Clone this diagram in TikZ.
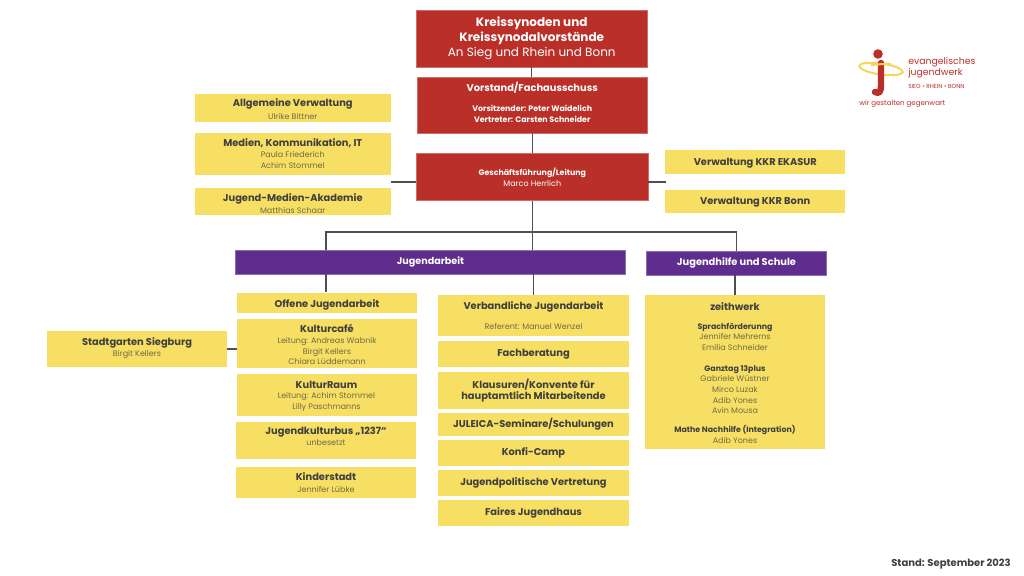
\documentclass[tikz,border=0pt]{standalone}
\usepackage{fontspec}
\setmainfont{Poppins}
\usetikzlibrary{positioning}
\definecolor{synred}{HTML}{BA3029}
\definecolor{jugyellow}{HTML}{F7DF63}
\definecolor{jugpurple}{HTML}{5E2D8E}
\definecolor{headgray}{HTML}{3F3F3F}
\definecolor{subgray}{HTML}{6E6A48}
\definecolor{linegray}{HTML}{4F4F4F}
\newcommand{\headtext}[1]{{\fontsize{7.4}{10}\selectfont\bfseries #1}}
\newcommand{\subtext}[1]{{\fontsize{6}{8}\selectfont\color{subgray} #1}}
\newcommand{\smallhead}[1]{{\fontsize{5.9}{8}\selectfont\bfseries #1}}
\newcommand{\bighead}[1]{{\fontsize{9}{11}\selectfont\bfseries #1}}
\newcommand{\padtop}[1]{\rule{0pt}{\dimexpr5.6pt+#1\relax}}
\newcommand{\padbot}[1]{\rule[-\dimexpr1.5pt+#1\relax]{0pt}{\dimexpr1.5pt+#1\relax}}
\tikzset{
  boxw/.style={minimum width=#1*0.75pt},
  boxh/.style={minimum height=#1*0.75pt},
  redbox/.style={fill=synred, draw=synred!70!white, line width=0.3pt, text=white, align=center, inner sep=0pt, font=\fontsize{6}{8}\selectfont},
  yellowbox/.style={fill=jugyellow, text=headgray, align=center, inner sep=0pt, font=\fontsize{6}{8}\selectfont},
  purplebox/.style={fill=jugpurple, draw=jugpurple!70!white, line width=0.3pt, text=white, align=center, inner sep=0pt},
  orgline/.style={draw=linegray, line width=0.8pt}
}
\begin{document}
\begin{tikzpicture}[x=0.75pt, y=-0.75pt]
\useasboundingbox (0,0) rectangle (1024,575);

% leitung
\node (synode) [redbox, boxw=230.5, boxh=57, font=\fontsize{9}{11.4}\selectfont] at (531.75,38.5) {\bighead{Kreissynoden und}\\\bighead{Kreissynodalvorstände}\\An Sieg und Rhein und Bonn};
\node (vorstand) [redbox, boxw=229.5, boxh=55.5] at (532.25,105.25) {\headtext{Vorstand/Fachausschuss}\\[7pt]\smallhead{Vorsitzender: Peter Waidelich}\\\smallhead{Vertreter: Carsten Schneider}\padbot{3pt}};
\node (leitung) [redbox, boxw=231.5, boxh=47] at (532.25,177) {\smallhead{Geschäftsführung/Leitung}\\Marco Herrlich};

% links oben
\node (verwaltung) [yellowbox, boxw=196.5, boxh=28] at (292.75,108) {\padtop{2.2pt}\headtext{Allgemeine Verwaltung}\\[1.5pt]\subtext{Ulrike Bittner}};
\node (medien) [yellowbox, boxw=196.5, boxh=42] at (292.75,153.5) {\headtext{Medien, Kommunikation, IT}\\\subtext{Paula Friederich}\\\subtext{Achim Stommel}};
\node (akademie) [yellowbox, boxw=196.5, boxh=27.5] at (292.75,201.25) {\padtop{3.7pt}\headtext{Jugend-Medien-Akademie}\\[0.8pt]\subtext{Matthias Schaar}};

% rechts oben
\node (ekasur) [yellowbox, boxw=180, boxh=24] at (755.25,162) {\padtop{1.5pt}\headtext{Verwaltung KKR EKASUR}};
\node (bonn) [yellowbox, boxw=180, boxh=23] at (755.25,201.5) {\padtop{1.5pt}\headtext{Verwaltung KKR Bonn}};

% bereiche
\node (jugendarbeit) [purplebox, boxw=390, boxh=24] at (430.5,262) {\fontsize{7.2}{8}\selectfont\bfseries Jugendarbeit};
\node (schule) [purplebox, boxw=180, boxh=24] at (736.5,263) {\fontsize{7.4}{8}\selectfont\bfseries Jugendhilfe und Schule};

% spalte 1
\node (offene) [yellowbox, boxw=180, boxh=20.5] at (327,302.75) {\padtop{3pt}\headtext{Offene Jugendarbeit}};
\node (kulturcafe) [yellowbox, boxw=180, boxh=49] at (327,343.5) {\padtop{2.2pt}\headtext{Kulturcafé}\\\subtext{Leitung: Andreas Wabnik}\\\subtext{Birgit Kellers}\\\subtext{Chiara Lüddemann}};
\node (kulturraum) [yellowbox, boxw=180, boxh=42.5] at (326.5,394.75) {\padtop{2.2pt}\headtext{KulturRaum}\\\subtext{Leitung: Achim Stommel}\\\subtext{Lilly Paschmanns}};
\node (bus) [yellowbox, boxw=180, boxh=37] at (326,440.5) {\headtext{Jugendkulturbus „1237“}\\\subtext{unbesetzt}\padbot{4.5pt}};
\node (kinderstadt) [yellowbox, boxw=180, boxh=31] at (326,482.5) {\headtext{Kinderstadt}\\[0.8pt]\subtext{Jennifer Lübke}};
\node (stadtgarten) [yellowbox, boxw=180, boxh=36] at (137,349) {\headtext{Stadtgarten Siegburg}\\\subtext{Birgit Kellers}\padbot{1.5pt}};

% spalte 2
\node (verband) [yellowbox, boxw=191, boxh=41] at (533.5,315.5) {\headtext{Verbandliche Jugendarbeit}\\[6.7pt]\subtext{Referent: Manuel Wenzel}};
\node (beratung) [yellowbox, boxw=191, boxh=26] at (533.5,354) {\headtext{Fachberatung}};
\node (klausuren) [yellowbox, boxw=191, boxh=37] at (533.5,390.5) {\headtext{Klausuren/Konvente für}\\\headtext{hauptamtlich Mitarbeitende}};
\node (juleica) [yellowbox, boxw=191, boxh=23] at (533.5,424.5) {\padtop{1.5pt}\headtext{JULEICA-Seminare/Schulungen}};
\node (konfi) [yellowbox, boxw=191, boxh=26] at (533.5,453) {\headtext{Konfi-Camp}};
\node (politik) [yellowbox, boxw=191, boxh=26] at (533.5,483) {\headtext{Jugendpolitische Vertretung}};
\node (faires) [yellowbox, boxw=191, boxh=26] at (533.5,513) {\headtext{Faires Jugendhaus}};

% spalte 3
\node (zeithwerk) [yellowbox, boxw=180, boxh=154] at (735,372) {\padtop{1.5pt}\headtext{zeithwerk}\\[6pt]\smallhead{Sprachförderunng}\\\subtext{Jennifer Mehrerns}\\\subtext{Emilia Schneider}\\[7.5pt]\smallhead{Ganztag 13plus}\\\subtext{Gabriele Wüstner}\\\subtext{Mirco Luzak}\\\subtext{Adib Yones}\\\subtext{Avin Mousa}\\[6pt]\smallhead{Mathe Nachhilfe (Integration)}\\\subtext{Adib Yones}};

% linien
\coordinate (linksfrei) at (391,182);
\coordinate (rechtsfrei) at (665.5,182);
\coordinate (verteiler) at (326,232);
\draw[orgline] (synode.south) -- (synode.south |- vorstand.north);
\draw[orgline] (vorstand.south) -- (leitung.north);
\draw[orgline] (leitung.south) -- (leitung.south |- jugendarbeit.north);
\draw[orgline] (linksfrei) -- (linksfrei -| leitung.west);
\draw[orgline] (rechtsfrei) -- (rechtsfrei -| leitung.east);
\draw[orgline] (verteiler |- jugendarbeit.north) -- (verteiler) -- (schule.north |- verteiler) -- (schule.north);
\draw[orgline] (verteiler |- jugendarbeit.south) -- (verteiler |- offene.north);
\draw[orgline] (verband.north |- jugendarbeit.south) -- (verband.north);
\draw[orgline] (zeithwerk.north |- schule.south) -- (zeithwerk.north);
\draw[orgline] (stadtgarten.east) -- (stadtgarten.east -| kulturcafe.west);

% logo
\draw[jugyellow!90!orange, line width=1.5pt, rotate around={-8:(881,69)}] (881,69) ellipse (22 and 5.5);
\fill[synred] (878,54) circle (4.8);
\draw[synred, line width=4.8pt, line cap=round] (881,63) -- (881,85) .. controls (881,92) and (879,94) .. (875,92);
\draw[jugyellow!90!orange, line width=1.5pt] (871,65.2) .. controls (876,64.4) and (884,63.8) .. (891,64);

\node (logotext) [text=synred, align=left, anchor=north west, inner sep=0pt, font=\fontsize{7}{8.4}\selectfont] at (908,57) {evangelisches\\jugendwerk};
\node (logosub) [text=synred, anchor=west, inner sep=0pt, font=\fontsize{4.4}{5}\selectfont] at (908,86) {SIEG • RHEIN • BONN};
\node (logoclaim) [text=synred, anchor=west, inner sep=0pt, font=\fontsize{5.3}{7}\selectfont] at (859,103.5) {wir gestalten gegenwart};

\node (stand) [text=headgray, anchor=east, inner sep=0pt, font=\fontsize{7.5}{9}\selectfont\bfseries] at (1011,564) {Stand: September 2023};
\end{tikzpicture}
\end{document}
